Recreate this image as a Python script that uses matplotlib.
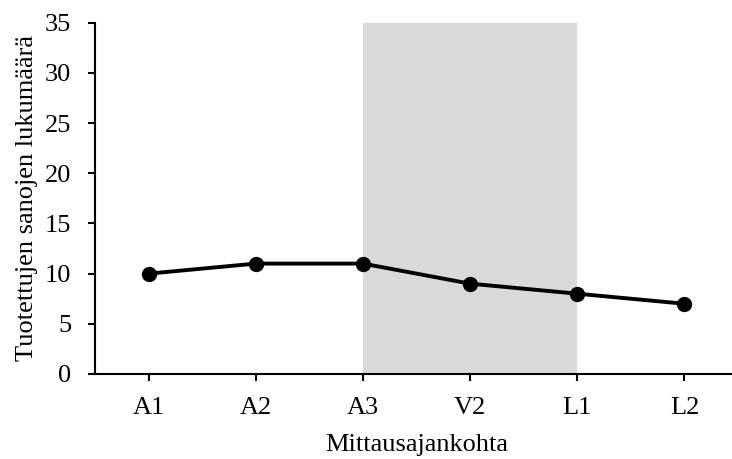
import matplotlib
matplotlib.use("Agg")
import matplotlib.pyplot as plt

categories = ["A1", "A2", "A3", "V2", "L1", "L2"]
values = [10, 11, 11, 9, 8, 7]
shade_start = "A3"
shade_end = "L1"
yticks = [0, 5, 10, 15, 20, 25, 30, 35]

plt.rcParams['font.family'] = ['Liberation Serif', 'DejaVu Serif']

fig = plt.figure(figsize=(7.32, 4.59), dpi=100)
W, H = 732, 459
left, right, top, bottom = 95, 738, 22.7, 374
ax = fig.add_axes([left / W, (H - bottom) / H, (right - left) / W, (bottom - top) / H])

x = list(range(len(categories)))
ax.axvspan(categories.index(shade_start), categories.index(shade_end), color="#d9d9d9", lw=0, zorder=0)
ax.plot(x, values, color="black", lw=2.8, marker="o", markersize=10, zorder=3)

ax.set_xlim(-0.5, len(categories) - 0.5)
ax.set_ylim(0, 35)
ax.set_yticks(yticks)
ax.set_xticks(x)
ax.set_xticklabels(categories)
ax.tick_params(axis="both", labelsize=19, direction="out", width=1.5, length=5, color="black")
ax.tick_params(axis="x", pad=11.5)
ax.tick_params(axis="y", pad=12)
for s in ["top", "right"]:
    ax.spines[s].set_visible(False)
for s in ["left", "bottom"]:
    ax.spines[s].set_linewidth(1.5)

ax.set_xlabel("Mittausajankohta", fontsize=19, labelpad=11)
ax.set_ylabel("Tuotettujen sanojen lukumäärä", fontsize=19, labelpad=5)

fig.savefig("out.png", dpi=100)
